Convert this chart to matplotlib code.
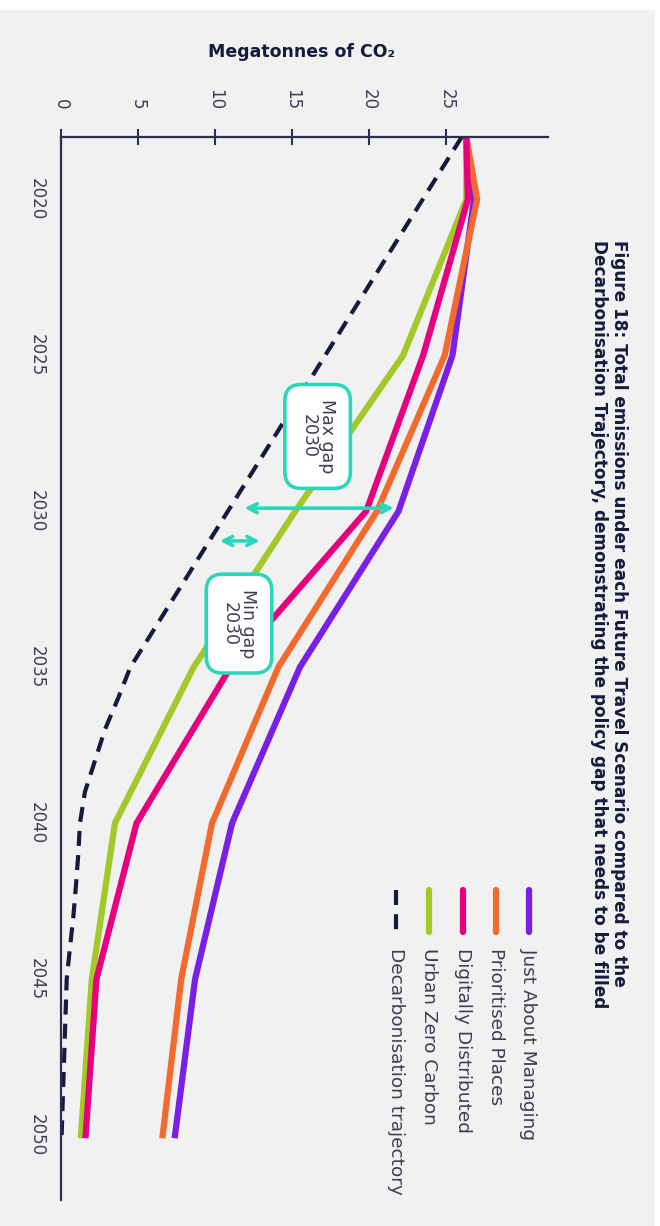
import matplotlib.pyplot as plt
from matplotlib.patches import Rectangle
from matplotlib.lines import Line2D

plt.rcParams['font.family'] = ['DejaVu Sans']

# emissions per scenario, megatonnes CO2
years = [2018, 2020, 2025, 2030, 2035, 2040, 2045, 2050]
just_about_managing = [26.3, 26.8, 25.4, 21.9, 15.5, 11.1, 8.7, 7.4]
prioritised_places = [26.3, 27.0, 24.9, 20.5, 14.1, 9.8, 7.8, 6.6]
urban_zero_carbon = [26.3, 26.3, 22.2, 15.2, 8.6, 3.5, 2.0, 1.3]
digitally_distributed = [26.3, 26.4, 23.5, 19.8, 11.0, 4.9, 2.3, 1.6]

traj_years = [2018, 2035, 2036, 2037, 2038, 2039, 2040, 2041, 2042, 2043, 2044, 2045, 2050]
decarb_trajectory = [26.0, 4.5, 3.7, 2.85, 2.2, 1.55, 1.23, 1.12, 0.97, 0.8, 0.58, 0.37, 0.04]

scenario_names = ["Just About Managing", "Prioritised Places", "Digitally Distributed",
                  "Urban Zero Carbon", "Decarbonisation trajectory"]
value_ticks = [0, 5, 10, 15, 20, 25]
year_ticks = [2020, 2025, 2030, 2035, 2040, 2045, 2050]

# policy gap markers (value range, year)
max_gap = (11.9, 21.6, 2029.9)
min_gap = (10.3, 12.9, 2030.95)

PURPLE = "#7a1fe6"
ORANGE = "#f26a2e"
PINK = "#e6007e"
GREEN = "#a3c928"
NAVY = "#161a3c"
TEAL = "#2cd6bb"
AXIS = "#2e3052"
TXT = "#3b3d55"
BG = "#f1f1f1"

fig = plt.figure(figsize=(6.6, 12.26), dpi=100, facecolor="white")
fig.patches.append(Rectangle((0, 0), 655 / 660, 1 - 10 / 1226, transform=fig.transFigure,
                             facecolor=BG, edgecolor="none", zorder=-10))

ax = fig.add_axes([61 / 660, 1 - 1200 / 1226, (548 - 61) / 660, (1200 - 137) / 1226])
ax.set_facecolor("none")

# chart is laid out sideways: value runs left->right, years run top->bottom
ax.plot(just_about_managing, years, color=PURPLE, lw=4.5, solid_joinstyle="miter")
ax.plot(prioritised_places, years, color=ORANGE, lw=4.5, solid_joinstyle="miter")
ax.plot(urban_zero_carbon, years, color=GREEN, lw=4.5, solid_joinstyle="miter")
ax.plot(digitally_distributed, years, color=PINK, lw=4.5, solid_joinstyle="miter")
ax.plot(decarb_trajectory, traj_years, color=NAVY, lw=3, dashes=(3.6, 2.2),
        dash_capstyle="butt")

ax.set_xlim(0, 31.6)
ax.set_ylim(2052.08, 2018)

for s in ["right", "bottom"]:
    ax.spines[s].set_visible(False)
for s in ["left", "top"]:
    ax.spines[s].set_color(AXIS)
    ax.spines[s].set_linewidth(1.6)

ax.xaxis.tick_top()
ax.set_xticks(value_ticks)
ax.set_xticklabels([str(v) for v in value_ticks])
ax.tick_params(axis="x", direction="inout", length=11, width=1.5, color=AXIS,
               pad=14, labelrotation=-90, labelsize=12, labelcolor=TXT)
ax.set_yticks(year_ticks)
ax.set_yticklabels([str(y) for y in year_ticks], rotation=-90, va="center")
ax.tick_params(axis="y", length=0, pad=11, labelsize=12, labelcolor=TXT)

# gap arrows
ax.annotate("", xy=(max_gap[1], max_gap[2]), xytext=(max_gap[0], max_gap[2]),
            arrowprops=dict(arrowstyle="<->", color=TEAL, lw=2.6, mutation_scale=16,
                            shrinkA=0, shrinkB=0))
ax.annotate("", xy=(min_gap[1], min_gap[2]), xytext=(min_gap[0], min_gap[2]),
            arrowprops=dict(arrowstyle="<->", color=TEAL, lw=2.6, mutation_scale=16,
                            shrinkA=0, shrinkB=0))

box = dict(boxstyle="round,pad=0.85,rounding_size=0.95", facecolor="white",
           edgecolor=TEAL, linewidth=2.6)
ax.text(16.65, 2027.6, "Max gap\n2030", rotation=-90, ha="center", va="center",
        fontsize=12.5, color=TXT, linespacing=1.0, bbox=box, zorder=5)
ax.text(11.55, 2033.6, "Min gap\n2030", rotation=-90, ha="center", va="center",
        fontsize=12.5, color=TXT, linespacing=1.0, bbox=box, zorder=5)

fig.text(302 / 660, 1 - 52 / 1226, "Megatonnes of CO₂", ha="center", va="center",
         fontsize=12.5, fontweight="bold", color=NAVY)

fig.text(609 / 660, 1 - 240 / 1226,
         "Figure 18: Total emissions under each Future Travel Scenario compared to the\n"
         "Decarbonisation Trajectory, demonstrating the policy gap that needs to be filled",
         rotation=-90, ha="center", va="top", multialignment="left",
         fontsize=12.2, fontweight="bold", color=NAVY, linespacing=1.1)

# legend, one vertical column per entry
leg_x = [529, 496, 463, 429, 396]
leg_colors = [PURPLE, ORANGE, PINK, GREEN, NAVY]
for i, name in enumerate(scenario_names):
    fx = leg_x[i] / 660
    if i == 4:
        ln = Line2D([fx, fx], [1 - 890 / 1226, 1 - 932 / 1226], transform=fig.transFigure,
                    color=NAVY, lw=3, dashes=(3.6, 2.2), dash_capstyle="butt")
    else:
        ln = Line2D([fx, fx], [1 - 890 / 1226, 1 - 932 / 1226], transform=fig.transFigure,
                    color=leg_colors[i], lw=4.5, solid_capstyle="round")
    fig.add_artist(ln)
    fig.text(fx, 1 - 948 / 1226, name, rotation=-90, ha="center", va="top",
             fontsize=13.3, color=TXT)

fig.savefig("out.png", dpi=100, facecolor=fig.get_facecolor())
